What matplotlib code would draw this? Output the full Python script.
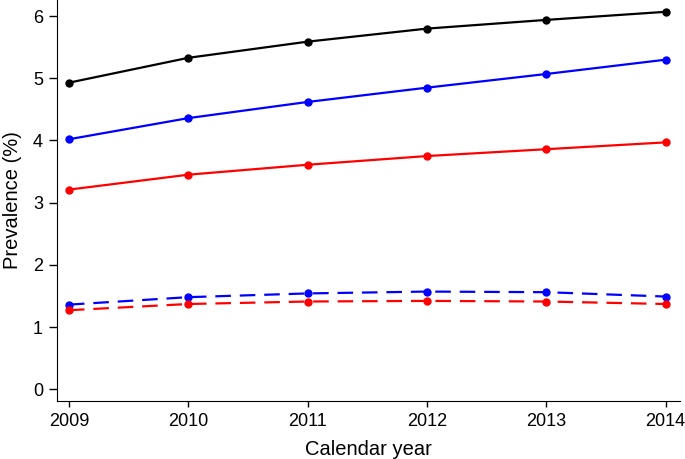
import matplotlib
matplotlib.use("Agg")
from matplotlib import pyplot as plt

# Data
years = [2009, 2010, 2011, 2012, 2013, 2014]
black_solid = [4.93, 5.33, 5.59, 5.80, 5.94, 6.07]
blue_solid = [4.02, 4.36, 4.62, 4.85, 5.07, 5.30]
red_solid = [3.21, 3.45, 3.61, 3.75, 3.86, 3.97]
blue_dashed = [1.36, 1.48, 1.54, 1.57, 1.56, 1.49]
red_dashed = [1.27, 1.37, 1.41, 1.42, 1.41, 1.37]
y_ticks = [0, 1, 2, 3, 4, 5, 6]

plt.rcParams['font.family'] = ['Liberation Sans', 'DejaVu Sans']

fig = plt.figure(figsize=(6.85, 4.59), dpi=100)
ax = fig.add_axes([0.0832, 0.1264, 0.9095, 0.8736])

ax.plot(years, black_solid, color='black', lw=1.6, marker='o', ms=5)
ax.plot(years, blue_solid, color='blue', lw=1.6, marker='o', ms=5)
ax.plot(years, red_solid, color='red', lw=1.6, marker='o', ms=5)
ax.plot(years, blue_dashed, color='blue', lw=1.6, marker='o', ms=5, dashes=(7, 4))
ax.plot(years, red_dashed, color='red', lw=1.6, marker='o', ms=5, dashes=(7, 4))

ax.set_xlim(2008.9, 2014.12)
ax.set_ylim(-0.19, 6.26)
ax.set_xticks(years)
ax.set_yticks(y_ticks)
ax.spines['top'].set_visible(False)
ax.spines['right'].set_visible(False)
ax.tick_params(direction='out', width=1, labelsize=13)
ax.tick_params(axis='y', length=6, pad=4)
ax.tick_params(axis='x', length=4, pad=5)
ax.set_xlabel("Calendar year", fontsize=14.5, labelpad=7)
ax.set_ylabel("Prevalence (%)", fontsize=14.5, labelpad=8)

fig.savefig("out.png", dpi=100)
